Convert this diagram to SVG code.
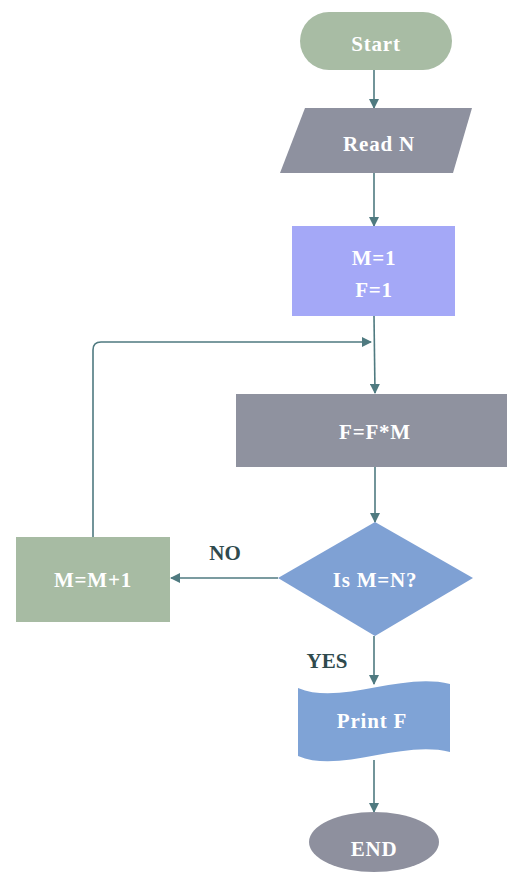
<svg xmlns="http://www.w3.org/2000/svg" width="507" height="879" viewBox="0 0 507 879">
<defs>
<style>
.t{font-family:"Liberation Serif","Times New Roman",serif;font-weight:bold;font-size:21px;letter-spacing:0.8px;fill:#ffffff;text-anchor:middle}
.l{font-family:"Liberation Serif","Times New Roman",serif;font-weight:bold;font-size:21px;fill:#2f4a4d;text-anchor:middle}
.c{fill:none;stroke:#4f7a80;stroke-width:1.6}
</style>
<marker id="ah" markerWidth="10" markerHeight="10" refX="9" refY="5" orient="auto" markerUnits="userSpaceOnUse">
<path d="M0,0 L10,5 L0,10 Z" fill="#4f7a80"/>
</marker>
</defs>
<rect width="507" height="879" fill="#ffffff"/>
<g id="connectors">
<line class="c" x1="374" y1="70" x2="374" y2="108" marker-end="url(#ah)"/>
<line class="c" x1="374" y1="173" x2="374" y2="226" marker-end="url(#ah)"/>
<line class="c" x1="374" y1="316" x2="375" y2="393" marker-end="url(#ah)"/>
<path class="c" d="M93,537 L93,350 Q93,342 101,342 L371,342" marker-end="url(#ah)"/>
<line class="c" x1="375" y1="467" x2="375" y2="522" marker-end="url(#ah)"/>
<line class="c" x1="278" y1="578" x2="171" y2="578" marker-end="url(#ah)"/>
<line class="c" x1="374" y1="636" x2="374" y2="684" marker-end="url(#ah)"/>
<line class="c" x1="374" y1="760" x2="374" y2="812" marker-end="url(#ah)"/>
</g>
<g id="start">
<rect x="300" y="12" width="152" height="58" rx="29" fill="#a8bca4"/>
<text class="t" x="376" y="51">Start</text>
</g>
<g id="readN">
<polygon points="305,108 472,108 453,173 280,173" fill="#8e919f"/>
<text class="t" x="379" y="151">Read N</text>
</g>
<g id="init">
<rect x="292" y="226" width="163" height="90" fill="#a4a8f7"/>
<text class="t" x="374" y="265">M=1</text>
<text class="t" x="374" y="297">F=1</text>
</g>
<g id="compute">
<rect x="236" y="394" width="271" height="73" fill="#8f929f"/>
<text class="t" x="375" y="439">F=F*M</text>
</g>
<g id="decision">
<polygon points="375,522 473,578 375,636 278,578" fill="#7fa1d4"/>
<text class="t" x="375" y="587">Is M=N?</text>
</g>
<g id="increment">
<rect x="16" y="537" width="154" height="85" fill="#a7bba3"/>
<text class="t" x="93" y="587">M=M+1</text>
</g>
<g id="print">
<path d="M298,688 C340,706 400,672 450,684 L450,752 C400,740 340,774 298,756 Z" fill="#7fa3d6"/>
<text class="t" x="372" y="728">Print F</text>
</g>
<g id="end">
<ellipse cx="374" cy="842" rx="65" ry="30" fill="#8e909e"/>
<text class="t" x="374" y="856">END</text>
</g>
<g id="labels">
<text class="l" x="225" y="560">NO</text>
<text class="l" x="327" y="668">YES</text>
</g>
</svg>
